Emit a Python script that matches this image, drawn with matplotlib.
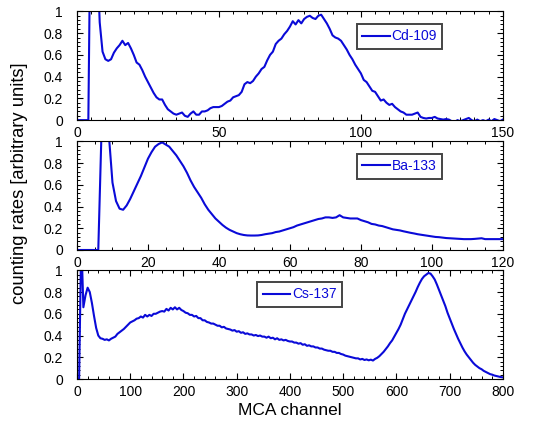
import numpy as np
import matplotlib
matplotlib.use("Agg")
import matplotlib.pyplot as plt
from matplotlib.ticker import MultipleLocator, FuncFormatter

plt.rcParams["font.family"] = ["Liberation Sans", "DejaVu Sans"]

# Cd-109 spectrum, one value per channel 0..150
cd_rate = [
    0, 0, 0, 0, 0, 2.5, 3.0, 1.6, 0.9, 0.63,
    0.56, 0.545, 0.56, 0.62, 0.66, 0.69, 0.73, 0.69, 0.71, 0.66,
    0.60, 0.53, 0.51, 0.46, 0.40, 0.35, 0.30, 0.25, 0.21, 0.19,
    0.19, 0.14, 0.10, 0.08, 0.06, 0.05, 0.06, 0.07, 0.04, 0.03,
    0.06, 0.08, 0.05, 0.05, 0.08, 0.08, 0.09, 0.11, 0.12, 0.12,
    0.12, 0.13, 0.15, 0.17, 0.18, 0.21, 0.22, 0.23, 0.26, 0.33,
    0.35, 0.34, 0.36, 0.40, 0.43, 0.47, 0.49, 0.55, 0.60, 0.63,
    0.70, 0.73, 0.75, 0.79, 0.82, 0.86, 0.91, 0.88, 0.92, 0.89,
    0.93, 0.95, 0.96, 0.94, 0.93, 0.96, 0.97, 0.93, 0.89, 0.84,
    0.78, 0.76, 0.75, 0.73, 0.69, 0.65, 0.60, 0.56, 0.51, 0.47,
    0.43, 0.37, 0.35, 0.31, 0.27, 0.26, 0.22, 0.18, 0.19, 0.16,
    0.14, 0.15, 0.12, 0.10, 0.08, 0.07, 0.05, 0.05, 0.05, 0.06,
    0.07, 0.03, 0.02, 0.015, 0.02, 0.02, 0.03, 0.015, 0.01, 0.005,
    0.01, 0.005, -0.01, -0.02, 0.0, -0.01, 0.0, 0.01, 0.02, 0.0,
    -0.01, 0.005, -0.01, 0.0, -0.01, 0.005, -0.01, 0.01, 0.0, -0.01,
    0.005,
]

# Ba-133 spectrum, one value per channel 0..120
ba_rate = [
    0, 0, 0, 0, 0, 0, 0, 1.2, 1.6, 1.05,
    0.62, 0.45, 0.38, 0.37, 0.41, 0.47, 0.54, 0.61, 0.68, 0.76,
    0.84, 0.90, 0.95, 0.975, 0.99, 0.97, 0.95, 0.91, 0.87, 0.82,
    0.77, 0.71, 0.64, 0.58, 0.53, 0.48, 0.42, 0.37, 0.33, 0.29,
    0.26, 0.23, 0.205, 0.185, 0.17, 0.155, 0.145, 0.138, 0.134, 0.133,
    0.133, 0.134, 0.138, 0.145, 0.15, 0.155, 0.165, 0.17, 0.18, 0.19,
    0.20, 0.21, 0.225, 0.235, 0.245, 0.255, 0.265, 0.275, 0.285, 0.29,
    0.30, 0.30, 0.295, 0.30, 0.32, 0.30, 0.295, 0.29, 0.29, 0.29,
    0.275, 0.265, 0.255, 0.24, 0.235, 0.225, 0.22, 0.21, 0.20, 0.19,
    0.185, 0.18, 0.172, 0.165, 0.158, 0.152, 0.145, 0.14, 0.135, 0.13,
    0.125, 0.12, 0.118, 0.114, 0.11, 0.108, 0.106, 0.104, 0.102, 0.10,
    0.10, 0.10, 0.102, 0.105, 0.108, 0.10, 0.10, 0.10, 0.10, 0.10,
    0.10,
]

# Cs-137 spectrum, one value every 4 channels 0..800
cs_rate = [
    0, 0, 1.3, 0.66, 0.77, 0.84, 0.80, 0.70, 0.58, 0.47,
    0.40, 0.375, 0.37, 0.36, 0.365, 0.355, 0.37, 0.38, 0.39, 0.415,
    0.43, 0.445, 0.46, 0.48, 0.50, 0.52, 0.53, 0.54, 0.555, 0.56,
    0.575, 0.565, 0.59, 0.575, 0.59, 0.58, 0.60, 0.60, 0.61, 0.62,
    0.625, 0.62, 0.645, 0.63, 0.655, 0.64, 0.66, 0.64, 0.655, 0.635,
    0.625, 0.61, 0.605, 0.59, 0.59, 0.575, 0.58, 0.56, 0.56, 0.54,
    0.54, 0.525, 0.52, 0.51, 0.51, 0.50, 0.49, 0.49, 0.475, 0.48,
    0.465, 0.46, 0.455, 0.445, 0.45, 0.435, 0.44, 0.425, 0.43, 0.415,
    0.42, 0.41, 0.41, 0.40, 0.405, 0.395, 0.40, 0.39, 0.39, 0.38,
    0.39, 0.375, 0.38, 0.365, 0.375, 0.36, 0.365, 0.355, 0.36, 0.35,
    0.345, 0.345, 0.335, 0.335, 0.325, 0.33, 0.315, 0.32, 0.305, 0.31,
    0.30, 0.30, 0.29, 0.29, 0.28, 0.28, 0.27, 0.265, 0.26, 0.26,
    0.25, 0.25, 0.24, 0.24, 0.23, 0.225, 0.215, 0.21, 0.205, 0.20,
    0.195, 0.19, 0.19, 0.18, 0.185, 0.175, 0.18, 0.172, 0.178, 0.17,
    0.185, 0.195, 0.21, 0.23, 0.25, 0.275, 0.30,
    0.33, 0.355, 0.39, 0.425, 0.46, 0.50, 0.55, 0.60, 0.64, 0.68,
    0.72, 0.76, 0.80, 0.845, 0.885, 0.92, 0.945, 0.96, 0.975, 0.97,
    0.945, 0.915, 0.87, 0.82, 0.77, 0.72, 0.67, 0.61, 0.56, 0.51,
    0.46, 0.415, 0.37, 0.33, 0.29, 0.255, 0.225, 0.20, 0.175, 0.15,
    0.13, 0.115, 0.10, 0.09, 0.075, 0.065, 0.055, 0.045, 0.04, 0.032,
    0.027, 0.022, 0.018, 0.015,
]

cd_channel = np.arange(len(cd_rate))
ba_channel = np.arange(len(ba_rate))
cs_channel = np.arange(len(cs_rate)) * 4

panels = [
    ("Cd-109", cd_channel, cd_rate, 150, 50, 5, (0.657, 0.886)),
    ("Ba-133", ba_channel, ba_rate, 120, 20, 5, (0.657, 0.886)),
    ("Cs-137", cs_channel, cs_rate, 800, 100, 20, (0.423, 0.893)),
]
bottoms = [0.716, 0.409, 0.104]

line_color = "#0a0ad8"

fig = plt.figure(figsize=(5.46, 4.23), dpi=100)

for (label, x, y, xmax, major, minor, anchor), bottom in zip(panels, bottoms):
    ax = fig.add_axes([0.141, bottom, 0.780, 0.257])
    ax.plot(x, y, color=line_color, linewidth=1.5, label=label)
    ax.set_xlim(0, xmax)
    ax.set_ylim(0, 1)
    ax.xaxis.set_major_locator(MultipleLocator(major))
    ax.xaxis.set_minor_locator(MultipleLocator(minor))
    ax.yaxis.set_major_locator(MultipleLocator(0.2))
    ax.yaxis.set_minor_locator(MultipleLocator(0.04))
    ax.yaxis.set_major_formatter(FuncFormatter(lambda v, _: f"{v:g}"))
    ax.tick_params(which="both", direction="in", top=True, right=True,
                   labelsize=10)
    ax.tick_params(axis="x", pad=4.5)
    ax.tick_params(axis="y", pad=10)
    ax.tick_params(which="major", length=4, width=0.8)
    ax.tick_params(which="minor", length=2.5, width=0.7)
    leg = ax.legend(loc="upper left", bbox_to_anchor=anchor, borderaxespad=0,
                    fancybox=False, framealpha=1, fontsize=10,
                    labelcolor="linecolor", handlelength=2.0,
                    handletextpad=0.1, borderpad=0.4)
    leg.get_frame().set_edgecolor("#444444")
    leg.get_frame().set_linewidth(1.4)

fig.text(0.531, 0.03, "MCA channel", ha="center", va="center", fontsize=12.5)
fig.text(0.036, 0.566, "counting rates [arbitrary units]", ha="center",
         va="center", rotation=90, fontsize=13.2)

fig.savefig("out.png", dpi=100)
